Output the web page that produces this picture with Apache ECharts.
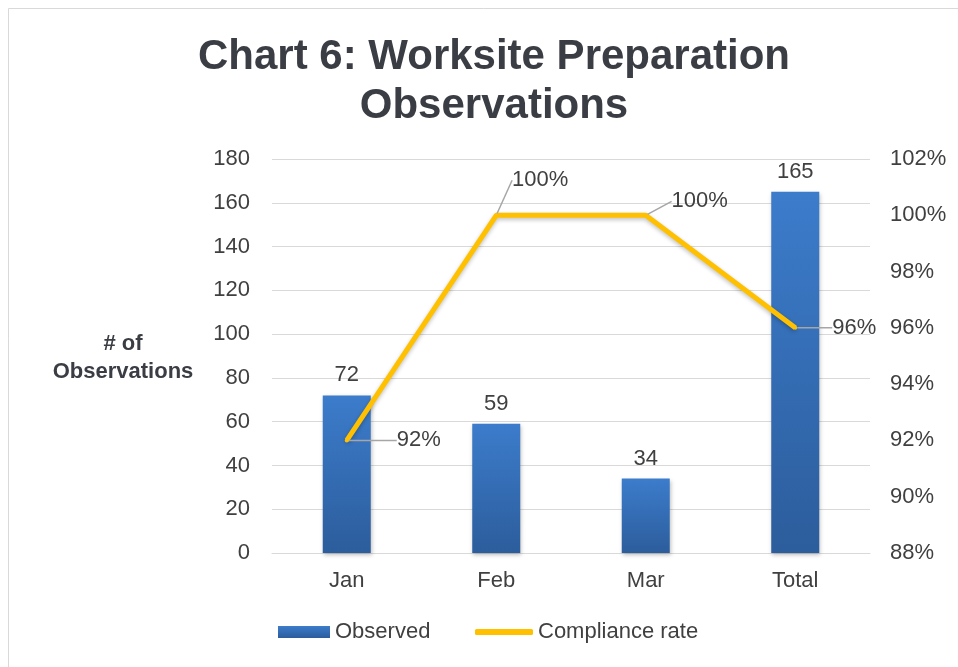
<!DOCTYPE html>
<html><head><meta charset="utf-8">
<script src="https://cdn.jsdelivr.net/npm/echarts@6/dist/echarts.min.js"></script>
<style>html,body{margin:0;padding:0;background:#fff}#c{width:958px;height:667px}</style>
</head><body><div id="c"></div>
<script>
const categories = ['Jan', 'Feb', 'Mar', 'Total'];
const observed = [72, 59, 34, 165];
const compliance = [92, 100, 100, 96];
const leftTicks = {min: 0, max: 180, interval: 20};
const rightTicks = {min: 88, max: 102, interval: 2};
const labelOffsets = [[72, 0], [44, -35], [54, -14], [59, 0]];

const txt = '#404040';
const ff = 'Liberation Sans, Arial';
const fs = 22;
const chart = echarts.init(document.getElementById('c'));
chart.setOption({
  animation: false,
  backgroundColor: '#fff',
  graphic: [{type: 'rect', shape: {x: 8.5, y: 8.5, width: 1200, height: 1200}, style: {fill: 'none', stroke: '#d9d9d9', lineWidth: 1}, silent: true}],
  title: [
    {text: 'Chart 6: Worksite Preparation\nObservations', left: 489, textAlign: 'center', top: 28,
     textStyle: {fontFamily: ff, fontSize: 42, fontWeight: 'bold', color: '#3a3d44', lineHeight: 49}},
    {text: '# of\nObservations', left: 118, top: 325, textAlign: 'center',
     textStyle: {fontFamily: ff, fontSize: 22, fontWeight: 'bold', color: '#3a3d44', lineHeight: 28}}
  ],
  grid: {left: 272, right: 88, top: 159, bottom: 114},
  legend: [
    {bottom: 19, left: 273, itemWidth: 52, itemHeight: 12,
     textStyle: {fontFamily: ff, fontSize: fs, color: txt},
     data: [{name: 'Observed', icon: 'rect'}]},
    {bottom: 19, left: 470, itemWidth: 58, itemHeight: 6,
     textStyle: {fontFamily: ff, fontSize: fs, color: txt},
     data: [{name: 'Compliance rate', icon: 'roundRect'}]}
  ],
  xAxis: {
    type: 'category', data: categories,
    axisLine: {lineStyle: {color: '#d9d9d9'}}, axisTick: {show: false},
    axisLabel: {fontFamily: ff, fontSize: fs, color: txt, margin: 17}
  },
  yAxis: [
    {type: 'value', min: leftTicks.min, max: leftTicks.max, interval: leftTicks.interval,
     axisLabel: {fontFamily: ff, fontSize: fs, color: txt, margin: 22},
     splitLine: {lineStyle: {color: '#d9d9d9'}}, axisLine: {show: false}, axisTick: {show: false}},
    {type: 'value', min: rightTicks.min, max: rightTicks.max, interval: rightTicks.interval, position: 'right',
     axisLabel: {fontFamily: ff, fontSize: fs, color: txt, margin: 20, formatter: v => v + '%'},
     splitLine: {show: false}, axisLine: {show: false}, axisTick: {show: false}}
  ],
  series: [
    {name: 'Observed', type: 'bar', data: observed, barWidth: 48, yAxisIndex: 0,
     itemStyle: {color: new echarts.graphic.LinearGradient(0, 0, 0, 1, [{offset: 0, color: '#3c7ccb'}, {offset: 1, color: '#2c5d9c'}]),
       shadowColor: 'rgba(0,0,0,0.25)', shadowBlur: 4, shadowOffsetX: 1, shadowOffsetY: 2},
     label: {show: true, position: 'top', distance: 9, fontFamily: ff, fontSize: fs, color: txt}},
    {name: 'Compliance rate', type: 'line', data: compliance, yAxisIndex: 1,
     symbol: 'circle', symbolSize: 4, showSymbol: true,
     lineStyle: {color: '#ffc000', width: 5, shadowColor: 'rgba(0,0,0,0.25)', shadowBlur: 4, shadowOffsetY: 2},
     itemStyle: {color: '#ffc000'},
     label: {show: true, position: 'inside', padding: [2, 4], formatter: p => p.value + '%', fontFamily: ff, fontSize: fs, color: txt},
     labelLine: {show: true, lineStyle: {color: '#a6a6a6', width: 1.5}},
     labelLayout: p => ({dx: labelOffsets[p.dataIndex][0], dy: labelOffsets[p.dataIndex][1]})}
  ]
});
</script></body></html>
